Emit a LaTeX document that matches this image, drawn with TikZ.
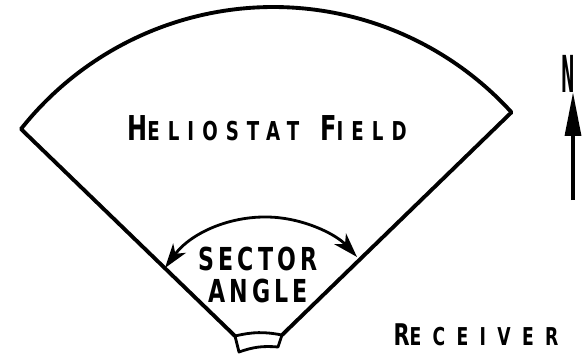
\documentclass[tikz,border=0pt]{standalone}
\usepackage{fontspec}
\setmainfont{DejaVu Sans}[FakeStretch=0.7]
\usetikzlibrary{arrows.meta}
\newcommand{\capsize}[2]{{\fontsize{#1}{#1}\selectfont #2}}

\begin{document}
\begin{tikzpicture}[x=0.02cm, y=0.02cm, line width=2.2pt, line join=round,
  lettering/.style={anchor=base, inner sep=0pt, font=\bfseries}]
\useasboundingbox (0,0) rectangle (585,353);
\coordinate (west) at (21,224);
\coordinate (east) at (512,241);
\coordinate (recl) at (235,17);
\coordinate (recr) at (282,18);
\draw (recl) -- (west) arc[start angle=141.6, end angle=42.3, radius=322] -- (recr);
\draw[line width=1.6pt] (recl) -- (239,1) to[bend left=12] (278,6) -- (recr) to[bend right=12] (recl);
\coordinate (swingl) at (165,85);
\draw[line width=1.6pt, {Stealth[length=14pt,width=9pt,inset=4pt]}-{Stealth[length=14pt,width=9pt,inset=4pt]}]
  (swingl) arc[start angle=143.8, end angle=42.8, radius=124.6];
\node[lettering] (field) at (267,213)
  {\addfontfeature{LetterSpace=31}\capsize{19.5}{H}\capsize{14.8}{ELIOSTAT}\hspace{12pt}\capsize{19.5}{F}\capsize{14.8}{IELD}};
\node[lettering] (sector) at (258,83) {\fontsize{18}{18}\selectfont\addfontfeature{LetterSpace=13}SECTOR};
\node[lettering] (angle) at (258,51) {\fontsize{18}{18}\selectfont\addfontfeature{LetterSpace=13}ANGLE};
\node[lettering] (receiver) at (476,8)
  {\addfontfeature{LetterSpace=46}\capsize{17}{R}\capsize{14}{ECEIVER}};
\node[lettering] (north) at (568,261) {\scalebox{0.45}[1]{\capsize{29}{N}}};
\coordinate (ntail) at (573,153);
\draw[-{Triangle[length=25pt,width=9pt]}] (ntail) -- (ntail |- north.base);
\end{tikzpicture}
\end{document}
